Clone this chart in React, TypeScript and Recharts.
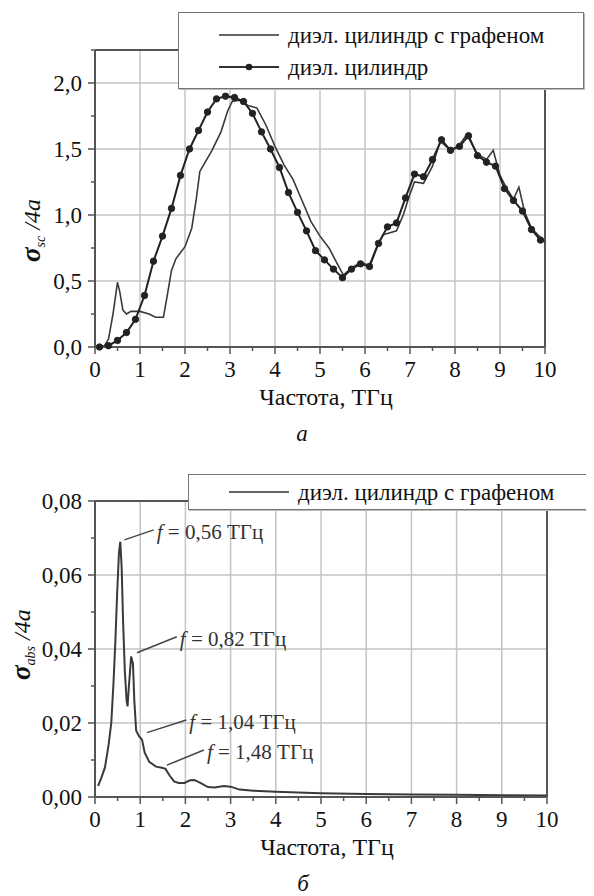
import React from 'react';
import { LineChart, Line, XAxis, YAxis, ReferenceLine, Legend } from 'recharts';

const SERIF = 'Times New Roman';
const AXIS = '#555';
const GRID = '#c4c4c4';
const INK = '#111';

// ---- panel a: scattering cross-section
const grapheneFreq = [
  0, 0.2, 0.3, 0.4, 0.5, 0.55, 0.62, 0.7, 0.8, 1.0, 1.2, 1.35, 1.52, 1.6, 1.7, 1.8, 2.0, 2.15, 2.25,
  2.33, 2.45, 2.6, 2.8, 2.95, 3.05, 3.2, 3.4, 3.6, 3.8, 4.0, 4.2, 4.4, 4.6, 4.8, 5.0, 5.2, 5.4, 5.52,
  5.7, 5.9, 6.1, 6.25, 6.4, 6.5, 6.7, 6.85, 7.0, 7.1, 7.3, 7.5, 7.67, 7.9, 8.1, 8.26, 8.5, 8.7, 8.85,
  9.0, 9.15, 9.3, 9.42, 9.55, 9.7, 9.9, 10.0,
];
const grapheneSc = [
  0, 0.005, 0.06, 0.25, 0.49, 0.42, 0.28, 0.25, 0.27, 0.27, 0.25, 0.225, 0.225, 0.38, 0.58, 0.67, 0.76,
  0.9, 1.12, 1.33, 1.4, 1.49, 1.63, 1.79, 1.86, 1.87, 1.83, 1.81, 1.68, 1.52, 1.38, 1.27, 1.11, 0.95,
  0.84, 0.75, 0.62, 0.545, 0.6, 0.64, 0.62, 0.75, 0.85, 0.86, 0.88, 1.0, 1.16, 1.25, 1.24, 1.37, 1.56,
  1.49, 1.53, 1.61, 1.46, 1.42, 1.49, 1.3, 1.2, 1.12, 1.21, 1.02, 0.9, 0.83, 0.79,
];
const dielFreq = [
  0.1, 0.3, 0.5, 0.7, 0.9, 1.1, 1.3, 1.5, 1.7, 1.9, 2.1, 2.3, 2.5, 2.7, 2.9, 3.1, 3.3, 3.5, 3.7, 3.9,
  4.1, 4.3, 4.5, 4.7, 4.9, 5.1, 5.3, 5.5, 5.7, 5.9, 6.1, 6.3, 6.5, 6.7, 6.9, 7.1, 7.3, 7.5, 7.7, 7.9,
  8.1, 8.3, 8.5, 8.7, 8.9, 9.1, 9.3, 9.5, 9.7, 9.9,
];
const dielSc = [
  0.0, 0.01, 0.05, 0.11, 0.21, 0.39, 0.65, 0.84, 1.05, 1.3, 1.5, 1.64, 1.78, 1.88, 1.9, 1.89, 1.86,
  1.77, 1.63, 1.5, 1.36, 1.17, 1.02, 0.88, 0.73, 0.66, 0.59, 0.525, 0.59, 0.63, 0.61, 0.785, 0.91,
  0.94, 1.13, 1.31, 1.29, 1.42, 1.57, 1.49, 1.52, 1.6, 1.45, 1.4, 1.37, 1.2, 1.11, 1.03, 0.89, 0.81,
];

// ---- panel б: absorption cross-section
const absFreq = [
  0.07, 0.15, 0.22, 0.3, 0.36, 0.41, 0.45, 0.49, 0.53, 0.56, 0.59, 0.62, 0.66, 0.7, 0.72, 0.75, 0.8,
  0.84, 0.87, 0.91, 0.97, 1.04, 1.1, 1.2, 1.35, 1.48, 1.56, 1.65, 1.75, 1.85, 1.98, 2.1, 2.2, 2.33,
  2.5, 2.65, 2.85, 3.0, 3.2, 3.5, 4.0, 4.5, 5.0, 6.0, 7.0, 8.0, 9.0, 10.0,
];
const absVal = [
  0.003, 0.0055, 0.008, 0.014, 0.02, 0.031, 0.042, 0.055, 0.066, 0.069, 0.062, 0.048, 0.034, 0.026,
  0.0245, 0.03, 0.038, 0.036, 0.026, 0.018, 0.0165, 0.0155, 0.012, 0.0095, 0.0082, 0.0079, 0.0076,
  0.0058, 0.0042, 0.0038, 0.0038, 0.0045, 0.0046, 0.0038, 0.0027, 0.0026, 0.003, 0.0028, 0.002,
  0.0017, 0.0014, 0.0012, 0.001, 0.0008, 0.0007, 0.0006, 0.0005, 0.0004,
];

// ---- ticks
const xMajor = [0, 1, 2, 3, 4, 5, 6, 7, 8, 9, 10];
const xTicks = [0, 0.5, 1, 1.5, 2, 2.5, 3, 3.5, 4, 4.5, 5, 5.5, 6, 6.5, 7, 7.5, 8, 8.5, 9, 9.5, 10];
const scMajor = [0, 0.5, 1, 1.5, 2];
const scTicks = [0, 0.25, 0.5, 0.75, 1, 1.25, 1.5, 1.75, 2, 2.25];
const absMajor = [0, 0.02, 0.04, 0.06, 0.08];
const absTicks = [0, 0.01, 0.02, 0.03, 0.04, 0.05, 0.06, 0.07, 0.08];

const seriesA = ['диэл. цилиндр с графеном', 'диэл. цилиндр'];
const seriesB = ['диэл. цилиндр с графеном'];

// peak labels in panel б: leader segment from the curve, text at its end
const peakLabels = ['0,56', '0,82', '1,04', '1,48'];
const peakLeaders = [
  { from: { x: 0.65, y: 0.0695 }, to: { x: 1.3, y: 0.0722 } },
  { from: { x: 0.93, y: 0.039 }, to: { x: 1.81, y: 0.0433 } },
  { from: { x: 1.15, y: 0.0174 }, to: { x: 2.02, y: 0.0208 } },
  { from: { x: 1.59, y: 0.0086 }, to: { x: 2.41, y: 0.0127 } },
];

const toPoints = (xs: number[], ys: number[]) => xs.map((f, i) => ({ f, v: ys[i] }));
const grapheneData = toPoints(grapheneFreq, grapheneSc);
const dielData = toPoints(dielFreq, dielSc);
const absData = toPoints(absFreq, absVal);

const XTick = (props: any) => {
  const { x, y, payload } = props;
  const major = xMajor.includes(payload.value);
  return (
    <g>
      <line x1={x} x2={x} y1={y} y2={y + (major ? 7 : 4)} stroke={AXIS} strokeWidth={1.5} />
      {major && (
        <text x={x} y={y + 30} textAnchor="middle" fontFamily={SERIF} fontSize={23} fill={INK}>
          {payload.value}
        </text>
      )}
    </g>
  );
};

const makeYTick = (majors: number[], digits: number) => (props: any) => {
  const { x, y, payload } = props;
  const major = majors.includes(payload.value);
  return (
    <g>
      <line x1={x} x2={x - (major ? 7 : 4)} y1={y} y2={y} stroke={AXIS} strokeWidth={1.5} />
      {major && (
        <text x={x - 13} y={y + 8} textAnchor="end" fontFamily={SERIF} fontSize={23} fill={INK}>
          {payload.value.toFixed(digits).replace('.', ',')}
        </text>
      )}
    </g>
  );
};
const ScTick = makeYTick(scMajor, 1);
const AbsTick = makeYTick(absMajor, 2);

const sigmaLabel = (x: number, y: number, sub: string) => () => (
  <text transform={`rotate(-90 ${x} ${y})`} x={x} y={y} fontFamily={SERIF} fontSize={24} fill={INK}>
    <tspan fontWeight="bold" fontStyle="italic" fontSize={27}>σ</tspan>
    <tspan fontStyle="italic" fontSize={14} dy={5}>{sub}</tspan>
    <tspan fontStyle="italic" dy={-5}> /4a</tspan>
  </text>
);

const xLabel = (caption: string) => (props: any) => {
  const vb = props.viewBox;
  return (
    <g>
      <text x={vb.x + vb.width / 2 + 6} y={vb.y + 58} textAnchor="middle" fontFamily={SERIF} fontSize={24} fill={INK}>
        Частота, ТГц
      </text>
      <text
        x={vb.x + vb.width / 2 - 18}
        y={vb.y + 94}
        textAnchor="middle"
        fontFamily={SERIF}
        fontSize={23}
        fontStyle="italic"
        fill={INK}
      >
        {caption}
      </text>
    </g>
  );
};

// text placed just right of the leader's upper end
const peakText = (label: string) => (props: any) => {
  const vb = props.viewBox;
  return (
    <text x={vb.x + vb.width + 3} y={vb.y + 9} fontFamily={SERIF} fontSize={21} fill="#333">
      <tspan fontStyle="italic">f</tspan> = {label} ТГц
    </text>
  );
};

const LegendBox = ({ names, dotted, padY }: { names: string[]; dotted: boolean[]; padY: number[] }) => (
  <div
    style={{
      width: 406,
      boxSizing: 'border-box',
      border: '1.5px solid #777',
      background: '#fff',
      paddingTop: padY[0],
      paddingBottom: padY[1],
      boxShadow: '1px 1px 0 #bbb',
    }}
  >
    {names.map((name, i) => (
      <div key={name} style={{ display: 'flex', alignItems: 'center', height: 32 }}>
        <svg width={60} height={32} style={{ marginLeft: 40 }}>
          <line x1={0} x2={60} y1={16} y2={16} stroke="#333" strokeWidth={dotted[i] ? 2 : 1.6} />
          {dotted[i] && <circle cx={30} cy={16} r={3.3} fill="#222" />}
        </svg>
        <span style={{ marginLeft: 9, fontFamily: SERIF, fontSize: 23, color: INK, lineHeight: 1 }}>{name}</span>
      </div>
    ))}
  </div>
);

export default function App() {
  return (
    <div style={{ marginLeft: -8, marginTop: -8, width: 594 }}>
      <LineChart width={594} height={450} margin={{ top: 50, right: 49, bottom: 63, left: 35 }}>
        <XAxis
          dataKey="f"
          type="number"
          domain={[0, 10]}
          ticks={xTicks}
          interval={0}
          height={40}
          tickSize={0}
          tickMargin={0}
          tickLine={false}
          tick={XTick}
          axisLine={{ stroke: AXIS, strokeWidth: 2 }}
          label={xLabel('а')}
        />
        <YAxis
          type="number"
          domain={[0, 2.25]}
          ticks={scTicks}
          interval={0}
          width={60}
          tickSize={0}
          tickMargin={0}
          tickLine={false}
          tick={ScTick}
          axisLine={{ stroke: AXIS, strokeWidth: 2 }}
          label={sigmaLabel(40, 262, 'sc')}
        />
        {xMajor.slice(1, -1).map((v) => (
          <ReferenceLine key={`gx${v}`} x={v} stroke={GRID} strokeWidth={1.5} />
        ))}
        {scMajor.slice(1).map((v) => (
          <ReferenceLine key={`gy${v}`} y={v} stroke={GRID} strokeWidth={1.5} />
        ))}
        <ReferenceLine y={2.25} stroke={AXIS} strokeWidth={2} />
        <ReferenceLine x={10} stroke={AXIS} strokeWidth={2} />
        <Line
          data={grapheneData}
          dataKey="v"
          name={seriesA[0]}
          type="linear"
          stroke="#3a3a3a"
          strokeWidth={1.6}
          dot={false}
          isAnimationActive={false}
        />
        <Line
          data={dielData}
          dataKey="v"
          name={seriesA[1]}
          type="linear"
          stroke="#222"
          strokeWidth={2}
          dot={{ r: 3.2, fill: '#222', stroke: '#222', strokeWidth: 1 }}
          isAnimationActive={false}
        />
        <Legend
          layout="vertical"
          align="center"
          verticalAlign="middle"
          wrapperStyle={{ left: 178, top: 12, width: 406 }}
          content={() => <LegendBox names={seriesA} dotted={[false, true]} padY={[6, 5]} />}
        />
      </LineChart>

      <LineChart width={594} height={446} margin={{ top: 51, right: 47, bottom: 59, left: 35 }}>
        <XAxis
          dataKey="f"
          type="number"
          domain={[0, 10]}
          ticks={xTicks}
          interval={0}
          height={40}
          tickSize={0}
          tickMargin={0}
          tickLine={false}
          tick={XTick}
          axisLine={{ stroke: AXIS, strokeWidth: 2 }}
          label={xLabel('б')}
        />
        <YAxis
          type="number"
          domain={[0, 0.08]}
          ticks={absTicks}
          interval={0}
          width={60}
          tickSize={0}
          tickMargin={0}
          tickLine={false}
          tick={AbsTick}
          axisLine={{ stroke: AXIS, strokeWidth: 2 }}
          label={sigmaLabel(30, 230, 'abs')}
        />
        {xMajor.slice(1, -1).map((v) => (
          <ReferenceLine key={`gx${v}`} x={v} stroke={GRID} strokeWidth={1.5} />
        ))}
        {absMajor.slice(1, -1).map((v) => (
          <ReferenceLine key={`gy${v}`} y={v} stroke={GRID} strokeWidth={1.5} />
        ))}
        <ReferenceLine y={0.08} stroke={AXIS} strokeWidth={2} />
        <ReferenceLine x={10} stroke={AXIS} strokeWidth={2} />
        {peakLeaders.map((p, i) => (
          <ReferenceLine
            key={`l${i}`}
            segment={[p.from, p.to]}
            stroke="#444"
            strokeWidth={1.5}
            label={peakText(peakLabels[i])}
          />
        ))}
        <Line
          data={absData}
          dataKey="v"
          name={seriesB[0]}
          type="linear"
          stroke="#3a3a3a"
          strokeWidth={2}
          dot={false}
          isAnimationActive={false}
        />
        <Legend
          layout="vertical"
          align="center"
          verticalAlign="middle"
          wrapperStyle={{ left: 188, top: 24, width: 406 }}
          content={() => <LegendBox names={seriesB} dotted={[false]} padY={[1, 1]} />}
        />
      </LineChart>
    </div>
  );
}
